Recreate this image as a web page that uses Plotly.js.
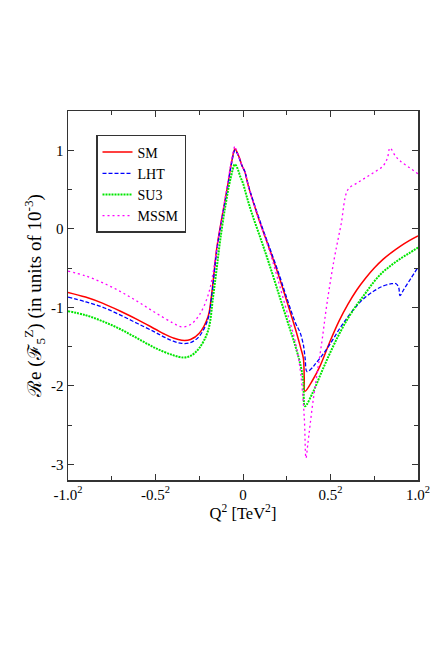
<!doctype html>
<html lang="en">
<head>
<meta charset="UTF-8" />
<title>Re F5Z</title>
<script src="https://cdn.plot.ly/plotly-3.0.1.min.js"></script>
<style>
    body { margin: 0; background: white; }
    #chart { width: 436px; height: 654px; }
</style>
</head>
<body>
<div id="chart"></div>
<script>
// x axis is linear in sign(Q)·|Q|, ticks labelled as squares
const smX = [-1, -0.9, -0.8, -0.7, -0.6, -0.5, -0.45, -0.4, -0.35, -0.3, -0.25, -0.2, -0.18, -0.15, -0.12, -0.09, -0.065, -0.046, -0.035, -0.02, -0.005, 0.01, 0.03, 0.05, 0.1, 0.15, 0.2, 0.25, 0.3, 0.33, 0.345, 0.35, 0.354, 0.4, 0.44, 0.5, 0.55, 0.6, 0.65, 0.7, 0.75, 0.8, 0.85, 0.9, 0.95, 1.0];
const smY = [-0.81, -0.87, -0.95, -1.05, -1.16, -1.28, -1.34, -1.39, -1.42, -1.41, -1.33, -1.12, -0.85, -0.25, 0.15, 0.52, 0.85, 1.02, 0.98, 0.9, 0.8, 0.73, 0.55, 0.4, 0.06, -0.25, -0.57, -0.92, -1.28, -1.52, -1.65, -1.9, -2.07, -1.92, -1.75, -1.42, -1.17, -0.96, -0.78, -0.63, -0.5, -0.39, -0.3, -0.22, -0.15, -0.09];

const lhtX = [-1, -0.9, -0.8, -0.7, -0.6, -0.5, -0.45, -0.4, -0.35, -0.3, -0.25, -0.2, -0.18, -0.15, -0.12, -0.09, -0.065, -0.046, -0.035, -0.02, -0.005, 0.01, 0.03, 0.05, 0.1, 0.15, 0.2, 0.25, 0.3, 0.326, 0.345, 0.355, 0.366, 0.4, 0.41, 0.45, 0.5, 0.55, 0.6, 0.65, 0.7, 0.75, 0.8, 0.85, 0.875, 0.89, 0.897, 0.92, 0.96, 1.0];
const lhtY = [-0.87, -0.93, -1.0, -1.1, -1.21, -1.32, -1.38, -1.43, -1.46, -1.45, -1.37, -1.15, -0.88, -0.28, 0.13, 0.5, 0.84, 1.0, 0.97, 0.89, 0.8, 0.73, 0.56, 0.41, 0.08, -0.23, -0.54, -0.88, -1.2, -1.32, -1.48, -1.65, -1.82, -1.76, -1.73, -1.62, -1.46, -1.28, -1.12, -0.98, -0.87, -0.79, -0.73, -0.7, -0.7, -0.75, -0.85, -0.77, -0.63, -0.49];

const su3X = [-1, -0.9, -0.8, -0.7, -0.6, -0.5, -0.4, -0.34, -0.3, -0.25, -0.2, -0.17, -0.15, -0.13, -0.1, -0.07, -0.046, -0.03, -0.015, 0, 0.02, 0.05, 0.1, 0.15, 0.2, 0.25, 0.3, 0.33, 0.345, 0.354, 0.4, 0.45, 0.5, 0.55, 0.6, 0.65, 0.7, 0.75, 0.8, 0.85, 0.9, 0.95, 1.0];
const su3Y = [-1.05, -1.1, -1.18, -1.28, -1.4, -1.52, -1.61, -1.64, -1.62, -1.52, -1.3, -0.85, -0.5, -0.14, 0.3, 0.65, 0.82, 0.76, 0.66, 0.58, 0.42, 0.2, -0.12, -0.45, -0.8, -1.15, -1.5, -1.75, -1.95, -2.26, -2.08, -1.82, -1.57, -1.34, -1.14, -0.97, -0.82, -0.67, -0.55, -0.46, -0.38, -0.31, -0.24];

const mssmX = [-1, -0.9, -0.8, -0.7, -0.6, -0.5, -0.4, -0.35, -0.3, -0.25, -0.2, -0.17, -0.15, -0.12, -0.09, -0.065, -0.046, -0.035, -0.02, -0.005, 0.01, 0.03, 0.05, 0.1, 0.15, 0.2, 0.25, 0.3, 0.33, 0.35, 0.36, 0.37, 0.4, 0.45, 0.48, 0.52, 0.56, 0.6, 0.65, 0.7, 0.75, 0.8, 0.825, 0.84, 0.87, 0.9, 0.95, 1.0];
const mssmY = [-0.54, -0.6, -0.69, -0.8, -0.93, -1.07, -1.2, -1.25, -1.22, -1.1, -0.85, -0.55, -0.25, 0.15, 0.55, 0.88, 1.05, 0.98, 0.9, 0.8, 0.73, 0.55, 0.4, 0.06, -0.27, -0.65, -1.05, -1.45, -1.85, -2.4, -2.92, -2.75, -2.2, -1.45, -0.95, -0.4, 0.05, 0.5, 0.58, 0.65, 0.72, 0.8, 0.9, 1.03, 0.93, 0.86, 0.78, 0.7];

const xTickVals = [-1, -0.5, 0, 0.5, 1];
const xTickText = ["-1.0<sup>2</sup>", "-0.5<sup>2</sup>", "0", "0.5<sup>2</sup>", "1.0<sup>2</sup>"];
const yTickVals = [-3, -2, -1, 0, 1];
const yTickText = ["-3", "-2", "-1", "0", "1"];

const serif = "Liberation Serif";

const traces = [
    { x: smX, y: smY, name: "SM", type: "scatter", mode: "lines",
      line: { color: "#ff0000", width: 1.5, shape: "spline", smoothing: 1 } },
    { x: lhtX, y: lhtY, name: "LHT", type: "scatter", mode: "lines",
      line: { color: "#0000ff", width: 1.3, dash: "4px,2px", shape: "spline", smoothing: 1 } },
    { x: su3X, y: su3Y, name: "SU3", type: "scatter", mode: "lines",
      line: { color: "#00e600", width: 2, dash: "2px,1px", shape: "spline", smoothing: 1 } },
    { x: mssmX, y: mssmY, name: "MSSM", type: "scatter", mode: "lines",
      line: { color: "#ff00ff", width: 1.3, dash: "2px,3px", shape: "spline", smoothing: 1 } },
];

const axisStyle = {
    showgrid: false,
    zeroline: false,
    showline: true,
    linecolor: "#333",
    linewidth: 1.5,
    mirror: "allticks",
    ticks: "inside",
    ticklen: 6,
    tickcolor: "#333",
    tickfont: { family: serif, size: 15, color: "#000" },
};

const layout = {
    width: 436,
    height: 654,
    margin: { l: 68, r: 18, t: 111, b: 174 },
    paper_bgcolor: "white",
    plot_bgcolor: "white",
    font: { family: serif, color: "#000" },
    showlegend: true,
    legend: {
        x: 0.08, y: 0.935, xanchor: "left", yanchor: "top",
        bgcolor: "white", bordercolor: "#333", borderwidth: 1.5,
        font: { family: serif, size: 14 },
        tracegroupgap: 0,
    },
    xaxis: Object.assign({}, axisStyle, {
        range: [-1, 1],
        tickmode: "array",
        tickvals: xTickVals,
        ticktext: xTickText,
        minor: { dtick: 0.25, tick0: 0, ticks: "inside", ticklen: 4, tickcolor: "#333" },
        title: { text: "Q<sup>2</sup> [TeV<sup>2</sup>]", font: { family: serif, size: 16.5 }, standoff: 2 },
    }),
    yaxis: Object.assign({}, axisStyle, {
        range: [-3.2, 1.5],
        tickmode: "array",
        tickvals: yTickVals,
        ticktext: yTickText,
        minor: { dtick: 0.5, tick0: 0, ticks: "inside", ticklen: 4, tickcolor: "#333" },
        title: { text: "ℛe (ℱ<sub>5</sub><sup>Z</sup>) (in units of 10<sup>-3</sup>)", font: { family: serif, size: 19 }, standoff: 4 },
    }),
};

Plotly.newPlot("chart", traces, layout, { displayModeBar: false, staticPlot: true });
</script>
</body>
</html>
